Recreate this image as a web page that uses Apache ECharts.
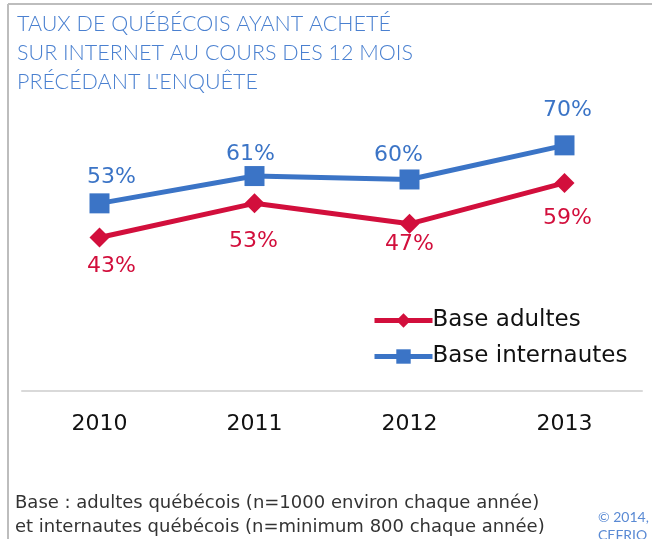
<!DOCTYPE html>
<html><head><meta charset="utf-8">
<script src="https://cdn.jsdelivr.net/npm/echarts@6/dist/echarts.min.js"></script>
<style>html,body{margin:0;padding:0;background:#fff}#c{width:652px;height:539px}</style>
</head><body><div id="c"></div>
<script>
const years = ['2010', '2011', '2012', '2013'];
const adultes = [43, 53, 47, 59];
const internautes = [53, 61, 60, 70];
const seriesNames = ['Base adultes', 'Base internautes'];
const titleLines = ['TAUX DE QUÉBÉCOIS AYANT ACHETÉ', 'SUR INTERNET AU COURS DES 12 MOIS', "PRÉCÉDANT L'ENQUÊTE"];
const noteLines = ['Base : adultes québécois (n=1000 environ chaque année)', 'et internautes québécois (n=minimum 800 chaque année)'];
const creditLines = ['© 2014,', 'CEFRIO'];

// label placement nudges (style only)
const redLabelNudge = [[12, 0], [-1, 9], [0, -9], [3, 6]];
const blueLabelNudge = [[12, 3], [-4, 7], [-11, 5], [3, -6]];

const RED = '#d20f3c', BLUE = '#3b74c6';
const TFONT = 'Lato, "Noto Sans", sans-serif';
const FONT = '"DejaVu Sans", sans-serif';
const withNudge = (vals, nudges) => vals.map((v, i) => ({ value: v, label: { offset: nudges[i] } }));

const chart = echarts.init(document.getElementById('c'));
chart.setOption({
  animation: false,
  textStyle: { fontFamily: FONT },
  title: {
    text: titleLines.join('\n'), left: 12, top: 5,
    textStyle: { color: '#4a80d0', fontSize: 21.5, fontWeight: 300, lineHeight: 29, fontFamily: TFONT }
  },
  grid: { left: 22, right: 10, top: 43, height: 348 },
  xAxis: {
    type: 'category', data: years,
    axisLine: { onZero: false, lineStyle: { color: '#d9d9d9', width: 2 } },
    axisTick: { show: false },
    axisLabel: { color: '#111', fontSize: 22, margin: 22, fontFamily: FONT }
  },
  yAxis: { type: 'value', min: -2, max: 100, show: false, splitLine: { show: false } },
  legend: {
    orient: 'vertical', left: 367, top: 304, itemWidth: 58, itemHeight: 18, itemGap: 13,
    data: seriesNames,
    lineStyle: { width: 5 },
    textStyle: { color: '#111', fontSize: 23, padding: [0, 0, 0, -5], fontFamily: FONT }
  },
  series: [
    {
      name: seriesNames[0], type: 'line', data: withNudge(adultes, redLabelNudge),
      symbol: 'diamond', symbolSize: 20,
      lineStyle: { color: RED, width: 5 }, itemStyle: { color: RED },
      label: { show: true, position: 'bottom', distance: 8, formatter: '{c}%', color: RED, fontSize: 22, fontFamily: FONT }
    },
    {
      name: seriesNames[1], type: 'line', data: withNudge(internautes, blueLabelNudge),
      symbol: 'rect', symbolSize: 20,
      lineStyle: { color: BLUE, width: 5 }, itemStyle: { color: BLUE },
      label: { show: true, position: 'top', distance: 8, formatter: '{c}%', color: BLUE, fontSize: 22, fontFamily: FONT }
    }
  ],
  graphic: [
    { type: 'line', shape: { x1: 8, y1: 4, x2: 652, y2: 4 }, style: { stroke: '#bdbdbd', lineWidth: 2 } },
    { type: 'line', shape: { x1: 8, y1: 4, x2: 8, y2: 539 }, style: { stroke: '#bdbdbd', lineWidth: 2 } },
    { type: 'text', left: 15, top: 491, style: { text: noteLines.join('\n'), fill: '#333', font: '18px ' + FONT, lineHeight: 24 } },
    { type: 'text', left: 598, top: 508, style: { text: creditLines.join('\n'), fill: '#5a8ad4', font: '14px ' + TFONT, lineHeight: 18 } }
  ]
});
</script></body></html>
